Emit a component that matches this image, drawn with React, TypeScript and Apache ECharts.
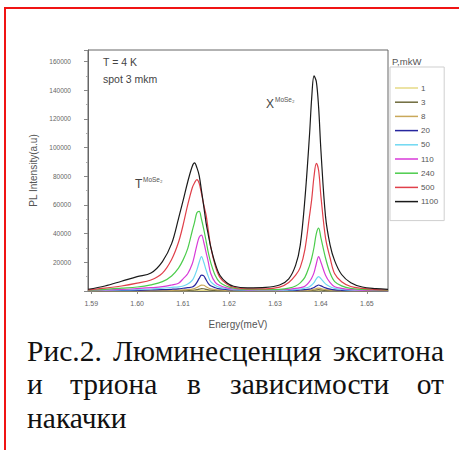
import React, { useEffect, useRef } from "react";
import * as echarts from "echarts";

// Energy sample points (eV)
const ENERGY = [
  1.5893, 1.593, 1.5966, 1.6, 1.603, 1.6055, 1.6075, 1.609, 1.61, 1.611, 1.612, 1.6125, 1.613, 1.6135, 1.614,
  1.6145, 1.615, 1.6155, 1.616, 1.617, 1.618, 1.6195, 1.621, 1.624, 1.628, 1.631, 1.633, 1.6345, 1.6355, 1.6365,
  1.6375, 1.638, 1.6385, 1.639, 1.6395, 1.64, 1.641, 1.642, 1.643, 1.6445, 1.6465, 1.649, 1.652, 1.6546,
];

const X_TICKS = [1.59, 1.6, 1.61, 1.62, 1.63, 1.64, 1.65];

const POWERS = ["1", "3", "8", "20", "50", "110", "240", "500", "1100"];

const P1 = [20, 25, 30, 35, 40, 55, 65, 85, 100, 130, 170, 220, 300, 400, 500, 480, 360, 250, 180, 120, 80, 55, 40, 25, 20, 20, 25, 35, 45, 60, 90, 125, 175, 250, 300, 250, 150, 90, 55, 35, 25, 15, 12, 10];
const P3 = [50, 70, 90, 110, 130, 170, 210, 270, 330, 420, 530, 700, 950, 1300, 1600, 1550, 1150, 800, 580, 380, 260, 170, 120, 80, 60, 60, 80, 110, 140, 180, 270, 380, 530, 750, 900, 760, 450, 270, 170, 110, 70, 50, 40, 30];
const P8 = [100, 150, 200, 250, 300, 400, 500, 650, 800, 1000, 1300, 1700, 2400, 3300, 4100, 4000, 3000, 2100, 1500, 1000, 700, 450, 300, 200, 150, 150, 200, 250, 300, 400, 600, 850, 1200, 1700, 2000, 1700, 1000, 600, 400, 250, 150, 100, 80, 60];
const P20 = [200, 300, 400, 500, 700, 900, 1200, 1500, 1900, 2300, 2800, 3800, 6000, 8800, 11000, 10500, 7800, 5200, 3600, 2300, 1500, 1000, 700, 400, 300, 300, 400, 500, 700, 900, 1300, 1800, 2500, 3500, 4200, 3600, 2200, 1300, 800, 500, 300, 200, 150, 100];
const P50 = [300, 500, 700, 1000, 1400, 1900, 2500, 2900, 3500, 4800, 7500, 10500, 14700, 20000, 24000, 20000, 14700, 10000, 6500, 3800, 2500, 1600, 1000, 600, 500, 500, 700, 1000, 1400, 2000, 3000, 4200, 5800, 8500, 10000, 8600, 5000, 3000, 1800, 1100, 600, 400, 300, 200];
const P110 = [400, 700, 1100, 1700, 2300, 3000, 4200, 5400, 8500, 12000, 19000, 25000, 32000, 37500, 39000, 34000, 27000, 20000, 12400, 6000, 3800, 2200, 1400, 800, 700, 800, 1200, 1800, 2400, 3300, 6500, 9000, 12800, 19000, 24000, 20000, 11000, 5800, 3000, 1800, 1000, 600, 400, 300];
const P240 = [600, 1200, 2000, 2800, 4300, 6500, 10500, 16000, 21700, 29500, 42000, 48000, 54500, 55500, 50000, 43000, 35000, 26500, 20000, 10800, 6000, 3300, 2000, 1100, 1000, 1200, 2000, 3500, 5700, 9500, 17500, 23000, 30500, 40000, 43800, 37000, 23000, 12500, 6500, 3600, 1800, 1100, 700, 500];
const P500 = [800, 2000, 3500, 5500, 7700, 12500, 22000, 34000, 46000, 60000, 72000, 75500, 77600, 75000, 68000, 60000, 53000, 42000, 31000, 17500, 9500, 4800, 2600, 1500, 1500, 2700, 6000, 11000, 16500, 28700, 52000, 64000, 80000, 89000, 84000, 66000, 37000, 23000, 12000, 6500, 3100, 1800, 1000, 700];
const P1100 = [1200, 3500, 6800, 10000, 12500, 20500, 33000, 50500, 63000, 76000, 87000, 89300, 86000, 80500, 70000, 59000, 47500, 39000, 31000, 19000, 11000, 5800, 3300, 2200, 2500, 4200, 8500, 18000, 32000, 63500, 108000, 135000, 150000, 146000, 128000, 98000, 52000, 32000, 21000, 11500, 5800, 2800, 1700, 1200];

const SERIES_VALUES = [P1, P3, P8, P20, P50, P110, P240, P500, P1100];
const COLORS = ["#e6da86", "#6e6a3c", "#c9a85a", "#26269e", "#6fd8f2", "#d83ad8", "#4ccc4c", "#e0404a", "#1a1a1a"];

const Y_TICK_MAX = 168000;

const CAPTION_WORDS = [
  { t: "Рис.2.", x: 27, y: 351, a: "left" },
  { t: "Люминесценция", x: 113, y: 351, a: "left" },
  { t: "экситона", x: 444, y: 351, a: "right" },
  { t: "и", x: 27, y: 384, a: "left" },
  { t: "триона", x: 70, y: 384, a: "left" },
  { t: "в", x: 187, y: 384, a: "left" },
  { t: "зависимости", x: 230, y: 384, a: "left" },
  { t: "от", x: 444, y: 384, a: "right" },
  { t: "накачки", x: 27, y: 418, a: "left" },
];

export default function App() {
  const ref = useRef<HTMLDivElement>(null);

  useEffect(() => {
    if (!ref.current) return;
    const chart = echarts.init(ref.current, undefined, { renderer: "svg" });

    const series = POWERS.map((p, i) => ({
      name: p,
      type: "line",
      symbol: "none",
      smooth: 0.35,
      data: ENERGY.map((e, k) => [e, SERIES_VALUES[i][k]]),
      lineStyle: { color: COLORS[i], width: 1.2 },
      itemStyle: { color: COLORS[i] },
      z: 2 + i,
    }));

    const sans = "Liberation Sans, Arial, sans-serif";
    const serif = "Liberation Serif, Times New Roman, serif";

    chart.setOption({
      animation: false,
      backgroundColor: "#ffffff",
      grid: {
        left: 88,
        right: 71,
        top: 50,
        bottom: 159,
        show: true,
        borderColor: "#666",
        borderWidth: 1,
      },
      legend: {
        data: POWERS,
        orient: "vertical",
        left: 390,
        top: 67,
        padding: [16, 6, 14, 5],
        icon: "rect",
        itemWidth: 23,
        itemHeight: 1.5,
        itemGap: 4.2,
        backgroundColor: "#fff",
        borderColor: "#cfcfcf",
        borderWidth: 1,
        textStyle: { fontSize: 8, lineHeight: 10, color: "#555", fontFamily: sans, padding: [0, 0, 0, -2] },
      },
      xAxis: {
        type: "value",
        min: 1.5893,
        max: 1.6546,
        name: "Energy(meV)",
        nameLocation: "middle",
        nameGap: 28,
        nameTextStyle: { fontSize: 10, color: "#555", fontFamily: sans },
        axisLine: { show: true, lineStyle: { color: "#666" } },
        axisTick: { show: true, length: 3, customValues: X_TICKS, lineStyle: { color: "#888" } },
        splitLine: { show: false },
        axisLabel: {
          fontSize: 7,
          color: "#666",
          fontFamily: sans,
          margin: 9,
          customValues: X_TICKS,
          formatter: (v: number) => v.toFixed(2),
        },
      },
      yAxis: {
        type: "value",
        min: 0,
        max: Y_TICK_MAX,
        interval: 20000,
        name: "PL Intensity(a.u)",
        nameLocation: "middle",
        nameGap: 39,
        nameTextStyle: { fontSize: 10, color: "#555", fontFamily: sans },
        axisLine: { show: true, lineStyle: { color: "#666" } },
        axisTick: { show: true, length: 4, lineStyle: { color: "#888" } },
        minorTick: { show: true, splitNumber: 2, length: 2, lineStyle: { color: "#aaa" } },
        splitLine: { show: false },
        axisLabel: {
          fontSize: 6.5,
          color: "#666",
          fontFamily: sans,
          margin: 17,
          showMinLabel: false,
          showMaxLabel: false,
          formatter: (v: number) => String(v),
        },
      },
      series,
      graphic: [
        {
          type: "rect",
          shape: { x: 5, y: 8, width: 480, height: 470 },
          style: { fill: "none", stroke: "#f01414", lineWidth: 2 },
          silent: true,
          z: 100,
        },
        {
          type: "text",
          x: 103,
          y: 62,
          style: { text: "T = 4 K", fontSize: 10.5, fill: "#444", fontFamily: sans, verticalAlign: "middle" },
          z: 50,
        },
        {
          type: "text",
          x: 103,
          y: 79,
          style: { text: "spot 3 mkm", fontSize: 10.5, fill: "#444", fontFamily: sans, verticalAlign: "middle" },
          z: 50,
        },
        {
          type: "text",
          x: 392,
          y: 61,
          style: { text: "P,mkW", fontSize: 9.5, fill: "#555", fontFamily: sans, verticalAlign: "middle" },
          z: 50,
        },
        {
          type: "text",
          x: 266,
          y: 104,
          style: { text: "X", fontSize: 12, fill: "#444", fontFamily: sans, verticalAlign: "middle" },
          z: 50,
        },
        {
          type: "text",
          x: 275,
          y: 99,
          style: { text: "MoSe₂", fontSize: 6.5, fill: "#555", fontFamily: sans, verticalAlign: "middle" },
          z: 50,
        },
        {
          type: "text",
          x: 135,
          y: 184,
          style: { text: "T", fontSize: 12, fill: "#444", fontFamily: sans, verticalAlign: "middle" },
          z: 50,
        },
        {
          type: "text",
          x: 143,
          y: 179,
          style: { text: "MoSe₂", fontSize: 6.5, fill: "#555", fontFamily: sans, verticalAlign: "middle" },
          z: 50,
        },
        ...CAPTION_WORDS.map((w) => ({
          type: "text",
          x: w.x,
          y: w.y,
          style: {
            text: w.t,
            fontSize: 29.5,
            fill: "#111",
            fontFamily: serif,
            align: w.a,
            verticalAlign: "middle",
          },
          z: 50,
        })),
      ],
    });

    return () => chart.dispose();
  }, []);

  return (
    <div
      ref={ref}
      style={{ position: "fixed", left: 0, top: 0, width: 459, height: 450, background: "#fff" }}
    />
  );
}
